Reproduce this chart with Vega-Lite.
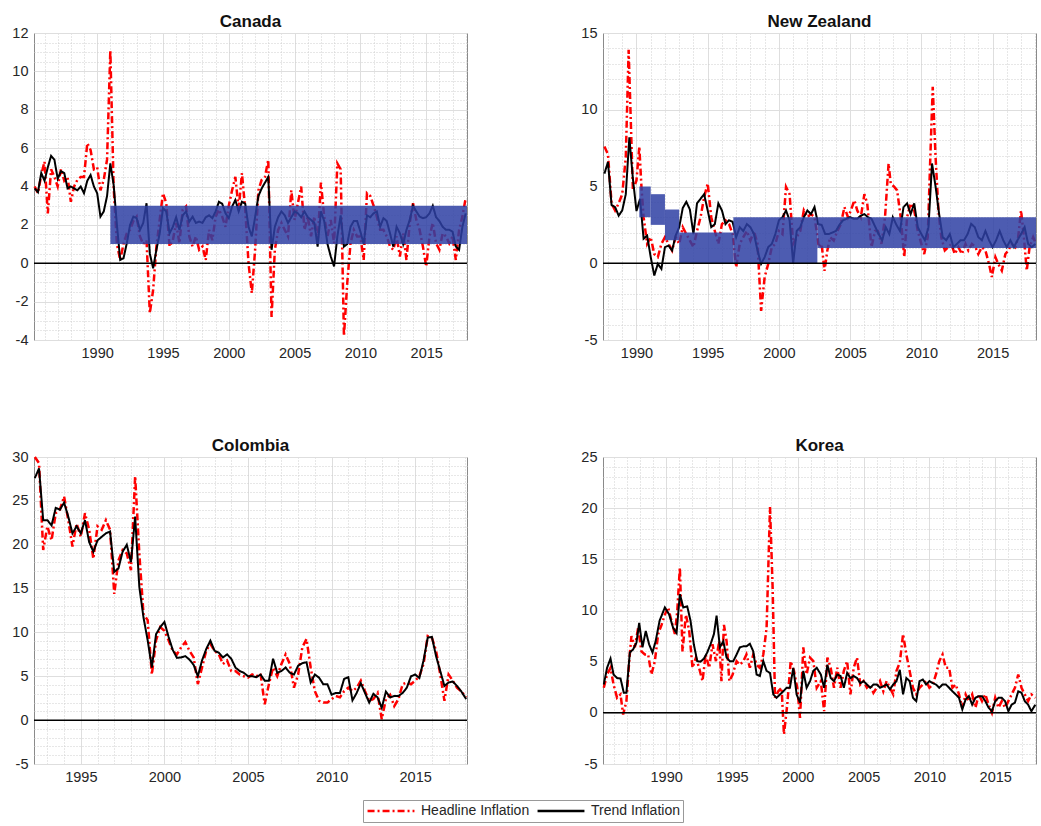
{
  "$schema": "https://vega.github.io/schema/vega-lite/v6.json",
  "background": "white",
  "padding": {"left": 11, "top": 12, "right": 5, "bottom": 2},
  "config": {
    "font": "Liberation Sans",
    "view": {"stroke": "#8a8a8a", "strokeWidth": 1},
    "axis": {"labelFont": "Liberation Sans", "labelFontSize": 14.5, "labelColor": "#262626", "domain": false, "ticks": false, "title": null, "labelPadding": 6, "gridOpacity": 1},
    "title": {"font": "Liberation Sans", "fontSize": 17, "fontWeight": "bold", "color": "#111111", "offset": -6},
    "legend": {"orient": "none", "legendX": 329, "legendY": 767, "direction": "horizontal", "strokeColor": "#999999", "fillColor": "white", "padding": 3, "symbolType": "stroke", "symbolSize": 2200, "symbolStrokeWidth": 2.4, "clipHeight": 16, "labelFont": "Liberation Sans", "labelFontSize": 14, "labelColor": "#262626", "columnPadding": 6, "labelOffset": 5}
  },
  "datasets": {
    "ca_h": [
      {"t":1985.25,"v":4.0},{"t":1985.5,"v":3.65},{"t":1985.75,"v":4.6},{"t":1986.0,"v":5.3},{"t":1986.25,"v":2.6},{"t":1986.5,"v":4.9},{"t":1986.75,"v":4.5},{"t":1987.0,"v":4.0},{"t":1987.25,"v":4.9},{"t":1987.5,"v":4.3},{"t":1987.75,"v":4.5},{"t":1988.0,"v":3.2},{"t":1988.25,"v":4.0},{"t":1988.5,"v":4.35},{"t":1988.75,"v":4.5},{"t":1989.0,"v":4.5},{"t":1989.25,"v":6.26},{"t":1989.5,"v":5.9},{"t":1989.75,"v":4.9},{"t":1990.0,"v":5.0},{"t":1990.25,"v":3.8},{"t":1990.5,"v":4.35},{"t":1990.75,"v":5.4},{"t":1991.0,"v":11.1},{"t":1991.25,"v":4.0},{"t":1991.5,"v":1.0},{"t":1991.75,"v":0.17},{"t":1992.0,"v":1.0},{"t":1992.25,"v":1.56},{"t":1992.5,"v":1.74},{"t":1992.75,"v":2.2},{"t":1993.0,"v":2.43},{"t":1993.25,"v":1.4},{"t":1993.5,"v":1.0},{"t":1993.75,"v":1.2},{"t":1994.0,"v":-2.6},{"t":1994.25,"v":-1.4},{"t":1994.5,"v":0.87},{"t":1994.75,"v":2.26},{"t":1995.0,"v":3.65},{"t":1995.25,"v":3.13},{"t":1995.5,"v":0.87},{"t":1995.75,"v":1.2},{"t":1996.0,"v":2.1},{"t":1996.25,"v":1.04},{"t":1996.5,"v":2.8},{"t":1996.75,"v":2.96},{"t":1997.0,"v":1.4},{"t":1997.25,"v":0.87},{"t":1997.5,"v":1.4},{"t":1997.75,"v":0.7},{"t":1998.0,"v":0.87},{"t":1998.25,"v":0.17},{"t":1998.5,"v":1.74},{"t":1998.75,"v":1.2},{"t":1999.0,"v":2.43},{"t":1999.25,"v":2.8},{"t":1999.5,"v":2.43},{"t":1999.75,"v":1.9},{"t":2000.0,"v":3.0},{"t":2000.25,"v":3.8},{"t":2000.5,"v":4.5},{"t":2000.75,"v":2.8},{"t":2001.0,"v":4.7},{"t":2001.25,"v":2.8},{"t":2001.5,"v":0.0},{"t":2001.75,"v":-1.56},{"t":2002.0,"v":0.7},{"t":2002.25,"v":3.8},{"t":2002.5,"v":4.35},{"t":2002.75,"v":4.5},{"t":2003.0,"v":5.4},{"t":2003.25,"v":-2.8},{"t":2003.5,"v":0.7},{"t":2003.75,"v":1.74},{"t":2004.0,"v":2.1},{"t":2004.25,"v":1.74},{"t":2004.5,"v":1.4},{"t":2004.75,"v":3.8},{"t":2005.0,"v":2.26},{"t":2005.25,"v":3.13},{"t":2005.5,"v":4.0},{"t":2005.75,"v":1.74},{"t":2006.0,"v":2.43},{"t":2006.25,"v":1.4},{"t":2006.5,"v":2.43},{"t":2006.75,"v":1.04},{"t":2007.0,"v":4.2},{"t":2007.25,"v":2.43},{"t":2007.5,"v":1.4},{"t":2007.75,"v":2.26},{"t":2008.0,"v":1.04},{"t":2008.25,"v":5.2},{"t":2008.5,"v":4.9},{"t":2008.75,"v":-3.8},{"t":2009.0,"v":-1.04},{"t":2009.25,"v":1.04},{"t":2009.5,"v":1.74},{"t":2009.75,"v":1.4},{"t":2010.0,"v":1.4},{"t":2010.25,"v":0.17},{"t":2010.5,"v":3.65},{"t":2010.75,"v":3.5},{"t":2011.0,"v":3.0},{"t":2011.25,"v":2.43},{"t":2011.5,"v":1.74},{"t":2011.75,"v":1.74},{"t":2012.0,"v":1.4},{"t":2012.25,"v":0.87},{"t":2012.5,"v":0.7},{"t":2012.75,"v":1.4},{"t":2013.0,"v":0.35},{"t":2013.25,"v":1.56},{"t":2013.5,"v":0.17},{"t":2013.75,"v":2.1},{"t":2014.0,"v":3.13},{"t":2014.25,"v":2.26},{"t":2014.5,"v":1.74},{"t":2014.75,"v":0.87},{"t":2015.0,"v":-0.17},{"t":2015.25,"v":1.4},{"t":2015.5,"v":2.1},{"t":2015.75,"v":1.04},{"t":2016.0,"v":0.7},{"t":2016.25,"v":1.56},{"t":2016.5,"v":1.4},{"t":2016.75,"v":1.04},{"t":2017.0,"v":1.4},{"t":2017.25,"v":0.17},{"t":2017.5,"v":1.74},{"t":2017.75,"v":2.43},{"t":2018.0,"v":3.4}
    ],
    "ca_t": [
      {"t":1985.25,"v":3.9},{"t":1985.5,"v":3.7},{"t":1985.75,"v":4.7},{"t":1986.0,"v":4.3},{"t":1986.25,"v":5.0},{"t":1986.5,"v":5.6},{"t":1986.75,"v":5.4},{"t":1987.0,"v":4.4},{"t":1987.25,"v":4.8},{"t":1987.5,"v":4.7},{"t":1987.75,"v":3.9},{"t":1988.0,"v":4.0},{"t":1988.25,"v":3.9},{"t":1988.5,"v":3.8},{"t":1988.75,"v":4.0},{"t":1989.0,"v":3.65},{"t":1989.25,"v":4.3},{"t":1989.5,"v":4.6},{"t":1989.75,"v":4.0},{"t":1990.0,"v":3.65},{"t":1990.25,"v":2.43},{"t":1990.5,"v":2.7},{"t":1990.75,"v":3.5},{"t":1991.0,"v":5.2},{"t":1991.25,"v":4.1},{"t":1991.5,"v":2.0},{"t":1991.75,"v":0.17},{"t":1992.0,"v":0.26},{"t":1992.25,"v":1.04},{"t":1992.5,"v":2.0},{"t":1992.75,"v":2.43},{"t":1993.0,"v":2.35},{"t":1993.25,"v":1.74},{"t":1993.5,"v":2.1},{"t":1993.75,"v":3.13},{"t":1994.0,"v":0.5},{"t":1994.25,"v":-0.26},{"t":1994.5,"v":0.7},{"t":1994.75,"v":1.56},{"t":1995.0,"v":2.87},{"t":1995.25,"v":2.7},{"t":1995.5,"v":1.56},{"t":1995.75,"v":1.9},{"t":1996.0,"v":2.4},{"t":1996.25,"v":1.74},{"t":1996.5,"v":2.5},{"t":1996.75,"v":2.7},{"t":1997.0,"v":2.17},{"t":1997.25,"v":2.43},{"t":1997.5,"v":2.1},{"t":1997.75,"v":2.17},{"t":1998.0,"v":2.1},{"t":1998.25,"v":2.4},{"t":1998.5,"v":2.5},{"t":1998.75,"v":2.35},{"t":1999.0,"v":2.7},{"t":1999.25,"v":3.2},{"t":1999.5,"v":3.1},{"t":1999.75,"v":2.6},{"t":2000.0,"v":2.35},{"t":2000.25,"v":2.95},{"t":2000.5,"v":3.3},{"t":2000.75,"v":2.7},{"t":2001.0,"v":3.2},{"t":2001.25,"v":3.1},{"t":2001.5,"v":1.9},{"t":2001.75,"v":1.4},{"t":2002.0,"v":2.4},{"t":2002.25,"v":3.5},{"t":2002.5,"v":3.9},{"t":2002.75,"v":4.2},{"t":2003.0,"v":4.5},{"t":2003.25,"v":0.7},{"t":2003.5,"v":1.9},{"t":2003.75,"v":2.4},{"t":2004.0,"v":2.7},{"t":2004.25,"v":2.5},{"t":2004.5,"v":2.1},{"t":2004.75,"v":2.4},{"t":2005.0,"v":2.7},{"t":2005.25,"v":2.6},{"t":2005.5,"v":2.4},{"t":2005.75,"v":2.7},{"t":2006.0,"v":2.4},{"t":2006.25,"v":2.26},{"t":2006.5,"v":2.1},{"t":2006.75,"v":0.87},{"t":2007.0,"v":2.7},{"t":2007.25,"v":2.2},{"t":2007.5,"v":1.0},{"t":2007.75,"v":0.35},{"t":2008.0,"v":-0.17},{"t":2008.25,"v":1.4},{"t":2008.5,"v":2.5},{"t":2008.75,"v":0.87},{"t":2009.0,"v":1.0},{"t":2009.25,"v":1.9},{"t":2009.5,"v":2.2},{"t":2009.75,"v":2.2},{"t":2010.0,"v":1.65},{"t":2010.25,"v":1.0},{"t":2010.5,"v":2.5},{"t":2010.75,"v":2.4},{"t":2011.0,"v":2.6},{"t":2011.25,"v":2.7},{"t":2011.5,"v":1.9},{"t":2011.75,"v":2.35},{"t":2012.0,"v":2.2},{"t":2012.25,"v":1.56},{"t":2012.5,"v":0.87},{"t":2012.75,"v":1.9},{"t":2013.0,"v":1.56},{"t":2013.25,"v":1.0},{"t":2013.5,"v":1.74},{"t":2013.75,"v":2.26},{"t":2014.0,"v":3.0},{"t":2014.25,"v":2.7},{"t":2014.5,"v":2.43},{"t":2014.75,"v":2.35},{"t":2015.0,"v":2.4},{"t":2015.25,"v":2.6},{"t":2015.5,"v":3.0},{"t":2015.75,"v":2.4},{"t":2016.0,"v":2.2},{"t":2016.25,"v":1.9},{"t":2016.5,"v":1.74},{"t":2016.75,"v":1.74},{"t":2017.0,"v":1.65},{"t":2017.25,"v":0.87},{"t":2017.5,"v":0.7},{"t":2017.75,"v":1.9},{"t":2018.0,"v":2.6}
    ],
    "ca_band": [{"x0":1991.0,"x1":2018.1,"lo":1,"hi":3}],
    "nz_h": [
      {"t":1987.75,"v":7.6},{"t":1988.0,"v":7.1},{"t":1988.25,"v":3.9},{"t":1988.5,"v":3.44},{"t":1988.75,"v":3.9},{"t":1989.0,"v":4.5},{"t":1989.25,"v":6.9},{"t":1989.45,"v":13.9},{"t":1989.75,"v":4.75},{"t":1990.0,"v":5.4},{"t":1990.2,"v":7.6},{"t":1990.35,"v":4.97},{"t":1990.5,"v":3.0},{"t":1990.75,"v":1.26},{"t":1991.0,"v":1.7},{"t":1991.25,"v":0.6},{"t":1991.5,"v":0.4},{"t":1991.75,"v":1.26},{"t":1992.0,"v":1.7},{"t":1992.25,"v":1.26},{"t":1992.5,"v":0.83},{"t":1992.75,"v":1.7},{"t":1993.0,"v":1.26},{"t":1993.25,"v":2.35},{"t":1993.5,"v":1.9},{"t":1993.75,"v":1.48},{"t":1994.0,"v":1.05},{"t":1994.25,"v":2.1},{"t":1994.5,"v":3.0},{"t":1994.75,"v":4.3},{"t":1995.0,"v":5.2},{"t":1995.25,"v":3.0},{"t":1995.5,"v":2.1},{"t":1995.75,"v":1.26},{"t":1996.0,"v":2.55},{"t":1996.25,"v":2.8},{"t":1996.5,"v":2.55},{"t":1996.75,"v":1.9},{"t":1997.0,"v":-0.26},{"t":1997.25,"v":1.26},{"t":1997.5,"v":1.7},{"t":1997.75,"v":2.1},{"t":1998.0,"v":1.48},{"t":1998.25,"v":2.1},{"t":1998.5,"v":1.26},{"t":1998.75,"v":-3.1},{"t":1999.0,"v":-0.9},{"t":1999.25,"v":-0.04},{"t":1999.5,"v":1.05},{"t":1999.75,"v":1.26},{"t":2000.0,"v":2.1},{"t":2000.25,"v":1.9},{"t":2000.5,"v":4.97},{"t":2000.75,"v":4.5},{"t":2001.0,"v":1.26},{"t":2001.25,"v":1.7},{"t":2001.5,"v":2.1},{"t":2001.75,"v":3.44},{"t":2002.0,"v":3.0},{"t":2002.25,"v":3.2},{"t":2002.5,"v":3.0},{"t":2002.65,"v":2.1},{"t":2002.8,"v":1.05},{"t":2003.0,"v":1.26},{"t":2003.2,"v":-0.5},{"t":2003.4,"v":0.83},{"t":2003.6,"v":1.7},{"t":2003.85,"v":1.48},{"t":2004.1,"v":2.1},{"t":2004.35,"v":2.55},{"t":2004.6,"v":3.66},{"t":2004.85,"v":3.0},{"t":2005.05,"v":3.44},{"t":2005.3,"v":4.1},{"t":2005.5,"v":3.44},{"t":2005.75,"v":3.0},{"t":2006.0,"v":4.5},{"t":2006.2,"v":3.9},{"t":2006.5,"v":1.05},{"t":2006.75,"v":2.1},{"t":2006.95,"v":2.1},{"t":2007.2,"v":1.26},{"t":2007.45,"v":3.0},{"t":2007.7,"v":6.5},{"t":2007.85,"v":5.2},{"t":2008.1,"v":4.97},{"t":2008.3,"v":4.75},{"t":2008.55,"v":3.0},{"t":2008.8,"v":0.4},{"t":2009.0,"v":3.0},{"t":2009.25,"v":3.9},{"t":2009.5,"v":3.44},{"t":2009.75,"v":2.1},{"t":2010.0,"v":1.26},{"t":2010.2,"v":0.6},{"t":2010.45,"v":1.7},{"t":2010.6,"v":6.05},{"t":2010.8,"v":11.5},{"t":2011.0,"v":6.9},{"t":2011.2,"v":3.44},{"t":2011.4,"v":1.7},{"t":2011.65,"v":0.83},{"t":2011.9,"v":1.05},{"t":2012.1,"v":1.26},{"t":2012.35,"v":0.6},{"t":2012.6,"v":1.05},{"t":2012.85,"v":0.6},{"t":2013.1,"v":1.26},{"t":2013.3,"v":0.83},{"t":2013.55,"v":1.26},{"t":2013.8,"v":1.05},{"t":2014.0,"v":0.6},{"t":2014.25,"v":1.05},{"t":2014.5,"v":0.83},{"t":2014.75,"v":-0.04},{"t":2014.95,"v":-0.9},{"t":2015.2,"v":0.4},{"t":2015.4,"v":-0.04},{"t":2015.65,"v":-0.48},{"t":2015.9,"v":0.6},{"t":2016.1,"v":0.83},{"t":2016.35,"v":1.26},{"t":2016.6,"v":1.05},{"t":2016.8,"v":1.7},{"t":2017.0,"v":3.44},{"t":2017.2,"v":1.7},{"t":2017.4,"v":-0.48},{"t":2017.6,"v":1.05},{"t":2017.85,"v":1.7},{"t":2018.05,"v":1.26}
    ],
    "nz_t": [
      {"t":1987.75,"v":5.84},{"t":1988.0,"v":6.6},{"t":1988.25,"v":3.8},{"t":1988.5,"v":3.66},{"t":1988.75,"v":3.1},{"t":1989.0,"v":3.44},{"t":1989.25,"v":4.5},{"t":1989.5,"v":8.2},{"t":1989.75,"v":5.5},{"t":1990.0,"v":3.4},{"t":1990.25,"v":4.2},{"t":1990.5,"v":1.6},{"t":1990.75,"v":1.8},{"t":1991.0,"v":0.4},{"t":1991.25,"v":-0.8},{"t":1991.5,"v":-0.04},{"t":1991.75,"v":-0.37},{"t":1992.0,"v":1.05},{"t":1992.25,"v":1.15},{"t":1992.5,"v":0.83},{"t":1992.75,"v":1.8},{"t":1993.0,"v":2.35},{"t":1993.25,"v":3.6},{"t":1993.5,"v":4.0},{"t":1993.75,"v":3.5},{"t":1994.0,"v":1.9},{"t":1994.25,"v":3.9},{"t":1994.5,"v":4.2},{"t":1994.75,"v":4.5},{"t":1995.0,"v":3.44},{"t":1995.25,"v":2.35},{"t":1995.5,"v":2.55},{"t":1995.75,"v":3.9},{"t":1996.0,"v":3.44},{"t":1996.25,"v":2.55},{"t":1996.5,"v":2.8},{"t":1996.75,"v":2.7},{"t":1997.0,"v":1.7},{"t":1997.25,"v":2.35},{"t":1997.5,"v":2.1},{"t":1997.75,"v":2.55},{"t":1998.0,"v":2.35},{"t":1998.25,"v":1.9},{"t":1998.5,"v":0.83},{"t":1998.75,"v":-0.04},{"t":1999.0,"v":0.4},{"t":1999.25,"v":1.05},{"t":1999.5,"v":1.26},{"t":1999.75,"v":1.9},{"t":2000.0,"v":2.8},{"t":2000.25,"v":3.0},{"t":2000.5,"v":3.44},{"t":2000.75,"v":2.8},{"t":2001.0,"v":0.0},{"t":2001.25,"v":2.1},{"t":2001.5,"v":2.35},{"t":2001.75,"v":3.0},{"t":2002.0,"v":3.44},{"t":2002.25,"v":3.2},{"t":2002.5,"v":3.66},{"t":2002.75,"v":2.55},{"t":2003.0,"v":2.5},{"t":2003.25,"v":1.9},{"t":2003.5,"v":1.9},{"t":2003.75,"v":2.0},{"t":2004.0,"v":2.1},{"t":2004.25,"v":2.5},{"t":2004.5,"v":2.8},{"t":2004.75,"v":2.9},{"t":2005.0,"v":3.0},{"t":2005.25,"v":2.9},{"t":2005.5,"v":2.9},{"t":2005.75,"v":3.1},{"t":2006.0,"v":3.2},{"t":2006.25,"v":3.0},{"t":2006.5,"v":2.9},{"t":2006.75,"v":2.4},{"t":2007.0,"v":1.9},{"t":2007.25,"v":1.5},{"t":2007.5,"v":2.35},{"t":2007.75,"v":1.9},{"t":2008.0,"v":3.0},{"t":2008.25,"v":2.5},{"t":2008.5,"v":2.1},{"t":2008.75,"v":3.66},{"t":2009.0,"v":3.9},{"t":2009.25,"v":3.2},{"t":2009.5,"v":3.9},{"t":2009.75,"v":2.35},{"t":2010.0,"v":1.9},{"t":2010.25,"v":1.5},{"t":2010.5,"v":2.35},{"t":2010.75,"v":6.5},{"t":2011.0,"v":5.0},{"t":2011.25,"v":3.2},{"t":2011.5,"v":1.7},{"t":2011.75,"v":1.5},{"t":2012.0,"v":1.9},{"t":2012.25,"v":1.05},{"t":2012.5,"v":1.26},{"t":2012.75,"v":1.5},{"t":2013.0,"v":1.5},{"t":2013.25,"v":1.9},{"t":2013.5,"v":2.57},{"t":2013.75,"v":2.35},{"t":2014.0,"v":1.7},{"t":2014.25,"v":1.5},{"t":2014.5,"v":2.1},{"t":2014.75,"v":1.5},{"t":2015.0,"v":1.05},{"t":2015.25,"v":1.5},{"t":2015.5,"v":2.1},{"t":2015.75,"v":1.5},{"t":2016.0,"v":1.05},{"t":2016.25,"v":1.5},{"t":2016.5,"v":1.05},{"t":2016.75,"v":1.5},{"t":2017.0,"v":1.9},{"t":2017.25,"v":2.35},{"t":2017.5,"v":1.26},{"t":2017.75,"v":1.05},{"t":2018.0,"v":1.26}
    ],
    "nz_band": [
      {"x0":1990.2,"x1":1991.0,"lo":3,"hi":5},
      {"x0":1991.0,"x1":1992.0,"lo":2.5,"hi":4.5},
      {"x0":1992.0,"x1":1993.0,"lo":1.5,"hi":3.5},
      {"x0":1993.0,"x1":1996.8,"lo":0,"hi":2},
      {"x0":1996.8,"x1":2002.7,"lo":0,"hi":3},
      {"x0":2002.7,"x1":2018.05,"lo":1,"hi":3}
    ],
    "co_h": [
      {"t":1992.25,"v":30.0},{"t":1992.5,"v":29.3},{"t":1992.75,"v":19.4},{"t":1993.0,"v":22.1},{"t":1993.25,"v":20.5},{"t":1993.5,"v":23.6},{"t":1993.75,"v":24.0},{"t":1994.0,"v":25.5},{"t":1994.25,"v":22.8},{"t":1994.5,"v":19.8},{"t":1994.75,"v":22.4},{"t":1995.0,"v":20.9},{"t":1995.25,"v":23.6},{"t":1995.5,"v":21.7},{"t":1995.75,"v":18.4},{"t":1996.0,"v":22.1},{"t":1996.25,"v":21.7},{"t":1996.5,"v":22.8},{"t":1996.75,"v":21.7},{"t":1997.0,"v":14.4},{"t":1997.25,"v":18.2},{"t":1997.5,"v":19.4},{"t":1997.75,"v":19.0},{"t":1998.0,"v":17.1},{"t":1998.25,"v":27.8},{"t":1998.5,"v":19.0},{"t":1998.75,"v":12.1},{"t":1999.0,"v":11.4},{"t":1999.25,"v":5.2},{"t":1999.5,"v":9.1},{"t":1999.75,"v":10.6},{"t":2000.0,"v":10.2},{"t":2000.25,"v":9.1},{"t":2000.5,"v":7.9},{"t":2000.75,"v":7.5},{"t":2001.0,"v":8.3},{"t":2001.25,"v":8.9},{"t":2001.5,"v":7.9},{"t":2001.75,"v":7.15},{"t":2002.0,"v":4.1},{"t":2002.25,"v":6.0},{"t":2002.5,"v":7.9},{"t":2002.75,"v":8.7},{"t":2003.0,"v":7.9},{"t":2003.25,"v":7.5},{"t":2003.5,"v":6.4},{"t":2003.75,"v":6.8},{"t":2004.0,"v":5.6},{"t":2004.25,"v":5.6},{"t":2004.5,"v":5.2},{"t":2004.75,"v":5.0},{"t":2005.0,"v":4.85},{"t":2005.25,"v":5.2},{"t":2005.5,"v":5.0},{"t":2005.75,"v":5.3},{"t":2006.0,"v":1.8},{"t":2006.25,"v":4.1},{"t":2006.5,"v":6.0},{"t":2006.75,"v":5.0},{"t":2007.0,"v":6.4},{"t":2007.25,"v":7.5},{"t":2007.5,"v":6.4},{"t":2007.75,"v":3.7},{"t":2008.0,"v":5.2},{"t":2008.25,"v":8.3},{"t":2008.5,"v":9.25},{"t":2008.75,"v":6.0},{"t":2009.0,"v":3.3},{"t":2009.25,"v":2.2},{"t":2009.5,"v":2.0},{"t":2009.75,"v":2.0},{"t":2010.0,"v":2.4},{"t":2010.25,"v":2.75},{"t":2010.5,"v":2.6},{"t":2010.75,"v":3.3},{"t":2011.0,"v":3.7},{"t":2011.25,"v":3.3},{"t":2011.5,"v":3.7},{"t":2011.75,"v":4.5},{"t":2012.0,"v":3.3},{"t":2012.25,"v":2.2},{"t":2012.5,"v":2.4},{"t":2012.75,"v":3.1},{"t":2013.0,"v":0.1},{"t":2013.25,"v":2.4},{"t":2013.5,"v":2.9},{"t":2013.75,"v":1.6},{"t":2014.0,"v":2.4},{"t":2014.25,"v":4.1},{"t":2014.5,"v":4.3},{"t":2014.75,"v":4.1},{"t":2015.0,"v":4.5},{"t":2015.25,"v":5.0},{"t":2015.5,"v":6.4},{"t":2015.75,"v":9.6},{"t":2016.0,"v":9.4},{"t":2016.25,"v":7.9},{"t":2016.5,"v":5.2},{"t":2016.75,"v":2.2},{"t":2017.0,"v":5.2},{"t":2017.25,"v":4.5},{"t":2017.5,"v":3.7},{"t":2017.75,"v":3.3},{"t":2018.05,"v":2.6}
    ],
    "co_t": [
      {"t":1992.25,"v":27.6},{"t":1992.5,"v":28.7},{"t":1992.75,"v":22.8},{"t":1993.0,"v":22.8},{"t":1993.25,"v":22.2},{"t":1993.5,"v":24.2},{"t":1993.75,"v":24.0},{"t":1994.0,"v":24.8},{"t":1994.25,"v":23.2},{"t":1994.5,"v":21.3},{"t":1994.75,"v":22.1},{"t":1995.0,"v":21.3},{"t":1995.25,"v":22.8},{"t":1995.5,"v":20.3},{"t":1995.75,"v":19.2},{"t":1996.0,"v":20.5},{"t":1996.25,"v":20.9},{"t":1996.5,"v":21.3},{"t":1996.75,"v":21.5},{"t":1997.0,"v":16.9},{"t":1997.25,"v":17.3},{"t":1997.5,"v":19.2},{"t":1997.75,"v":20.0},{"t":1998.0,"v":18.0},{"t":1998.25,"v":23.2},{"t":1998.5,"v":15.2},{"t":1998.75,"v":11.7},{"t":1999.0,"v":9.1},{"t":1999.25,"v":6.0},{"t":1999.5,"v":9.8},{"t":1999.75,"v":10.6},{"t":2000.0,"v":11.2},{"t":2000.25,"v":9.5},{"t":2000.5,"v":8.0},{"t":2000.75,"v":7.1},{"t":2001.0,"v":7.15},{"t":2001.25,"v":7.3},{"t":2001.5,"v":6.9},{"t":2001.75,"v":6.3},{"t":2002.0,"v":5.0},{"t":2002.25,"v":6.8},{"t":2002.5,"v":8.1},{"t":2002.75,"v":9.06},{"t":2003.0,"v":7.9},{"t":2003.25,"v":7.7},{"t":2003.5,"v":7.15},{"t":2003.75,"v":7.5},{"t":2004.0,"v":7.0},{"t":2004.25,"v":6.0},{"t":2004.5,"v":5.6},{"t":2004.75,"v":5.4},{"t":2005.0,"v":5.0},{"t":2005.25,"v":5.0},{"t":2005.5,"v":4.9},{"t":2005.75,"v":5.2},{"t":2006.0,"v":4.5},{"t":2006.25,"v":4.5},{"t":2006.5,"v":7.0},{"t":2006.75,"v":5.4},{"t":2007.0,"v":5.6},{"t":2007.25,"v":6.0},{"t":2007.5,"v":5.4},{"t":2007.75,"v":5.2},{"t":2008.0,"v":6.2},{"t":2008.25,"v":6.5},{"t":2008.5,"v":6.6},{"t":2008.75,"v":4.3},{"t":2009.0,"v":5.2},{"t":2009.25,"v":4.85},{"t":2009.5,"v":4.1},{"t":2009.75,"v":4.1},{"t":2010.0,"v":2.9},{"t":2010.25,"v":3.1},{"t":2010.5,"v":3.1},{"t":2010.75,"v":4.7},{"t":2011.0,"v":4.9},{"t":2011.25,"v":2.25},{"t":2011.5,"v":3.1},{"t":2011.75,"v":4.2},{"t":2012.0,"v":3.1},{"t":2012.25,"v":2.0},{"t":2012.5,"v":3.0},{"t":2012.75,"v":2.6},{"t":2013.0,"v":1.4},{"t":2013.25,"v":3.25},{"t":2013.5,"v":2.6},{"t":2013.75,"v":2.75},{"t":2014.0,"v":2.75},{"t":2014.25,"v":3.1},{"t":2014.5,"v":3.7},{"t":2014.75,"v":5.0},{"t":2015.0,"v":5.2},{"t":2015.25,"v":4.8},{"t":2015.5,"v":6.8},{"t":2015.75,"v":9.4},{"t":2016.0,"v":9.5},{"t":2016.25,"v":7.3},{"t":2016.5,"v":5.6},{"t":2016.75,"v":3.9},{"t":2017.0,"v":4.3},{"t":2017.25,"v":4.4},{"t":2017.5,"v":3.9},{"t":2017.75,"v":3.3},{"t":2018.05,"v":2.4}
    ],
    "ko_h": [
      {"t":1985.26,"v":2.45},{"t":1985.51,"v":3.75},{"t":1985.77,"v":4.4},{"t":1986.0,"v":2.77},{"t":1986.27,"v":1.47},{"t":1986.53,"v":1.8},{"t":1986.73,"v":-0.16},{"t":1986.98,"v":1.14},{"t":1987.19,"v":5.05},{"t":1987.36,"v":7.5},{"t":1987.62,"v":6.4},{"t":1987.87,"v":8.3},{"t":1988.12,"v":6.0},{"t":1988.38,"v":5.7},{"t":1988.63,"v":5.7},{"t":1988.88,"v":3.75},{"t":1989.14,"v":5.05},{"t":1989.39,"v":7.7},{"t":1989.65,"v":8.6},{"t":1989.9,"v":9.6},{"t":1990.15,"v":10.3},{"t":1990.4,"v":9.0},{"t":1990.66,"v":7.7},{"t":1990.84,"v":9.9},{"t":1991.04,"v":14.2},{"t":1991.24,"v":6.0},{"t":1991.5,"v":9.6},{"t":1991.75,"v":8.0},{"t":1992.0,"v":4.4},{"t":1992.26,"v":5.4},{"t":1992.5,"v":4.4},{"t":1992.76,"v":3.1},{"t":1993.0,"v":5.7},{"t":1993.27,"v":4.4},{"t":1993.52,"v":6.7},{"t":1993.78,"v":5.05},{"t":1994.03,"v":7.0},{"t":1994.2,"v":3.1},{"t":1994.39,"v":8.6},{"t":1994.59,"v":7.0},{"t":1994.8,"v":3.1},{"t":1995.05,"v":3.75},{"t":1995.35,"v":5.05},{"t":1995.6,"v":4.7},{"t":1995.86,"v":5.05},{"t":1996.1,"v":5.7},{"t":1996.36,"v":4.4},{"t":1996.62,"v":5.7},{"t":1996.87,"v":4.7},{"t":1997.12,"v":4.4},{"t":1997.38,"v":5.7},{"t":1997.63,"v":8.3},{"t":1997.89,"v":20.1},{"t":1998.09,"v":12.2},{"t":1998.27,"v":1.47},{"t":1998.52,"v":2.1},{"t":1998.77,"v":2.45},{"t":1998.95,"v":-2.1},{"t":1999.2,"v":0.8},{"t":1999.46,"v":5.05},{"t":1999.71,"v":4.1},{"t":1999.96,"v":2.45},{"t":2000.17,"v":-0.5},{"t":2000.42,"v":6.4},{"t":2000.67,"v":3.75},{"t":2000.93,"v":5.4},{"t":2001.18,"v":5.05},{"t":2001.44,"v":2.45},{"t":2001.75,"v":3.1},{"t":2002.0,"v":0.16},{"t":2002.25,"v":5.4},{"t":2002.5,"v":4.4},{"t":2002.75,"v":2.45},{"t":2003.0,"v":4.4},{"t":2003.25,"v":2.45},{"t":2003.5,"v":4.1},{"t":2003.75,"v":5.05},{"t":2004.0,"v":1.8},{"t":2004.25,"v":4.4},{"t":2004.5,"v":5.4},{"t":2004.75,"v":2.77},{"t":2005.0,"v":3.1},{"t":2005.25,"v":2.45},{"t":2005.5,"v":2.77},{"t":2005.75,"v":1.96},{"t":2006.0,"v":2.45},{"t":2006.25,"v":3.1},{"t":2006.5,"v":2.1},{"t":2006.75,"v":3.1},{"t":2007.0,"v":2.45},{"t":2007.25,"v":1.8},{"t":2007.5,"v":4.1},{"t":2007.75,"v":4.9},{"t":2008.0,"v":7.7},{"t":2008.25,"v":5.7},{"t":2008.5,"v":4.1},{"t":2008.75,"v":2.45},{"t":2009.0,"v":1.8},{"t":2009.25,"v":2.45},{"t":2009.5,"v":2.77},{"t":2009.75,"v":3.1},{"t":2010.0,"v":2.45},{"t":2010.25,"v":2.77},{"t":2010.5,"v":3.75},{"t":2010.75,"v":5.05},{"t":2011.0,"v":5.7},{"t":2011.25,"v":4.4},{"t":2011.5,"v":4.4},{"t":2011.75,"v":2.45},{"t":2012.0,"v":2.77},{"t":2012.25,"v":1.8},{"t":2012.5,"v":0.5},{"t":2012.75,"v":1.8},{"t":2013.0,"v":1.14},{"t":2013.25,"v":1.8},{"t":2013.5,"v":0.5},{"t":2013.75,"v":1.8},{"t":2014.0,"v":1.14},{"t":2014.25,"v":1.8},{"t":2014.5,"v":0.8},{"t":2014.75,"v":0.0},{"t":2015.0,"v":1.47},{"t":2015.25,"v":0.5},{"t":2015.5,"v":1.14},{"t":2015.75,"v":0.5},{"t":2016.0,"v":1.14},{"t":2016.25,"v":1.8},{"t":2016.5,"v":2.45},{"t":2016.75,"v":3.75},{"t":2017.0,"v":2.45},{"t":2017.25,"v":1.8},{"t":2017.5,"v":1.14},{"t":2017.75,"v":1.8},{"t":2018.05,"v":1.47}
    ],
    "ko_t": [
      {"t":1985.26,"v":2.77},{"t":1985.51,"v":4.4},{"t":1985.77,"v":5.3},{"t":1986.0,"v":3.75},{"t":1986.27,"v":3.4},{"t":1986.53,"v":3.36},{"t":1986.78,"v":1.96},{"t":1986.98,"v":1.96},{"t":1987.24,"v":5.9},{"t":1987.49,"v":6.2},{"t":1987.74,"v":6.85},{"t":1987.95,"v":8.8},{"t":1988.2,"v":6.4},{"t":1988.45,"v":8.0},{"t":1988.7,"v":6.7},{"t":1988.96,"v":5.9},{"t":1989.2,"v":7.0},{"t":1989.5,"v":9.0},{"t":1989.9,"v":10.3},{"t":1990.23,"v":9.6},{"t":1990.53,"v":8.3},{"t":1990.79,"v":7.8},{"t":1991.04,"v":11.6},{"t":1991.3,"v":10.3},{"t":1991.6,"v":10.4},{"t":1991.85,"v":9.0},{"t":1992.1,"v":6.7},{"t":1992.36,"v":5.05},{"t":1992.61,"v":5.0},{"t":1992.87,"v":5.3},{"t":1993.12,"v":5.9},{"t":1993.37,"v":6.7},{"t":1993.63,"v":7.7},{"t":1993.83,"v":9.5},{"t":1994.08,"v":6.4},{"t":1994.34,"v":7.0},{"t":1994.59,"v":5.4},{"t":1994.84,"v":5.05},{"t":1995.1,"v":5.05},{"t":1995.35,"v":5.7},{"t":1995.6,"v":6.4},{"t":1995.86,"v":6.5},{"t":1996.1,"v":6.5},{"t":1996.36,"v":6.75},{"t":1996.62,"v":6.0},{"t":1996.87,"v":3.75},{"t":1997.12,"v":3.6},{"t":1997.38,"v":5.05},{"t":1997.63,"v":4.1},{"t":1997.89,"v":3.9},{"t":1998.14,"v":1.8},{"t":1998.39,"v":1.47},{"t":1998.65,"v":1.8},{"t":1998.9,"v":2.1},{"t":1999.15,"v":2.45},{"t":1999.4,"v":2.45},{"t":1999.66,"v":4.4},{"t":1999.91,"v":1.8},{"t":2000.17,"v":1.0},{"t":2000.42,"v":4.1},{"t":2000.67,"v":2.45},{"t":2000.93,"v":3.1},{"t":2001.18,"v":4.1},{"t":2001.44,"v":4.4},{"t":2001.75,"v":3.75},{"t":2002.0,"v":2.45},{"t":2002.25,"v":4.7},{"t":2002.5,"v":3.4},{"t":2002.75,"v":3.1},{"t":2003.0,"v":3.75},{"t":2003.25,"v":3.6},{"t":2003.5,"v":2.45},{"t":2003.75,"v":3.9},{"t":2004.0,"v":3.4},{"t":2004.25,"v":3.6},{"t":2004.5,"v":3.4},{"t":2004.75,"v":2.9},{"t":2005.0,"v":3.1},{"t":2005.25,"v":2.77},{"t":2005.5,"v":2.45},{"t":2005.75,"v":2.77},{"t":2006.0,"v":2.77},{"t":2006.25,"v":2.45},{"t":2006.5,"v":2.6},{"t":2006.75,"v":2.77},{"t":2007.0,"v":2.3},{"t":2007.25,"v":2.77},{"t":2007.5,"v":3.1},{"t":2007.75,"v":4.2},{"t":2008.0,"v":1.8},{"t":2008.25,"v":3.4},{"t":2008.5,"v":3.1},{"t":2008.75,"v":1.47},{"t":2009.0,"v":1.14},{"t":2009.25,"v":3.1},{"t":2009.5,"v":3.26},{"t":2009.75,"v":2.77},{"t":2010.0,"v":3.1},{"t":2010.25,"v":2.9},{"t":2010.5,"v":2.77},{"t":2010.75,"v":2.45},{"t":2011.0,"v":2.77},{"t":2011.25,"v":2.77},{"t":2011.5,"v":2.45},{"t":2011.75,"v":2.1},{"t":2012.0,"v":1.8},{"t":2012.25,"v":1.47},{"t":2012.5,"v":0.33},{"t":2012.75,"v":1.3},{"t":2013.0,"v":1.63},{"t":2013.25,"v":0.8},{"t":2013.5,"v":1.47},{"t":2013.75,"v":1.63},{"t":2014.0,"v":1.63},{"t":2014.25,"v":1.14},{"t":2014.5,"v":0.5},{"t":2014.75,"v":0.16},{"t":2015.0,"v":1.14},{"t":2015.25,"v":1.47},{"t":2015.5,"v":1.47},{"t":2015.75,"v":1.14},{"t":2016.0,"v":0.16},{"t":2016.25,"v":0.8},{"t":2016.5,"v":1.0},{"t":2016.75,"v":2.1},{"t":2017.0,"v":1.96},{"t":2017.25,"v":1.14},{"t":2017.5,"v":0.8},{"t":2017.75,"v":0.16},{"t":2018.05,"v":0.8}
    ]
  },
  "concat": [
    {
      "title": "Canada",
      "width": 433, "height": 307,
      "layer": [
        {"data": {"name": "ca_h"}, "mark": {"type": "line", "strokeWidth": 2.5},
         "encoding": {
           "x": {"field": "t", "type": "quantitative", "scale": {"domain": [1985.2, 2018.1], "nice": false, "zero": false},
                 "axis": {"orient": "bottom", "values": [1986,1987,1988,1989,1990,1991,1992,1993,1994,1995,1996,1997,1998,1999,2000,2001,2002,2003,2004,2005,2006,2007,2008,2009,2010,2011,2012,2013,2014,2015,2016,2017,2018], "labels": false, "grid": true, "gridColor": "#cfcfcf", "gridDash": [1,2]}},
           "y": {"field": "v", "type": "quantitative", "scale": {"domain": [-4, 12], "nice": false, "zero": false},
                 "axis": {"orient": "left", "values": [-3.5,-3,-2.5,-1.5,-1,-0.5,0.5,1,1.5,2.5,3,3.5,4.5,5,5.5,6.5,7,7.5,8.5,9,9.5,10.5,11,11.5], "labels": false, "grid": true, "gridColor": "#cfcfcf", "gridDash": [1,2]}},
           "color": {"datum": "Headline Inflation", "title": null, "scale": {"domain": ["Headline Inflation", "Trend Inflation"], "range": ["#ff0000", "#000000"]}},
           "strokeDash": {"datum": "Headline Inflation", "title": null, "scale": {"domain": ["Headline Inflation", "Trend Inflation"], "range": [[7, 3, 2, 3], [1, 0]]}}
         }},
        {"data": {"name": "ca_t"}, "mark": {"type": "line", "strokeWidth": 2},
         "encoding": {
           "x": {"field": "t", "type": "quantitative", "axis": {"orient": "bottom", "values": [1990,1995,2000,2005,2010,2015], "format": "d", "grid": true, "gridColor": "#dedede"}},
           "y": {"field": "v", "type": "quantitative", "axis": {"orient": "left", "values": [-4,-2,0,2,4,6,8,10,12], "labelExpr": "datum.value + ''", "grid": true, "gridColor": "#dedede"}},
           "color": {"datum": "Trend Inflation", "title": null},
           "strokeDash": {"datum": "Trend Inflation", "title": null}
         }},
        {"data": {"name": "ca_band"}, "mark": {"type": "rect", "color": "#2e3fa3", "opacity": 0.85},
         "encoding": {
           "x": {"field": "x0", "type": "quantitative", "axis": null}, "x2": {"field": "x1"},
           "y": {"field": "lo", "type": "quantitative", "axis": null}, "y2": {"field": "hi"}
         }},
        {"data": {"values": [{}]}, "mark": {"type": "rule", "color": "#000000", "strokeWidth": 1.5},
         "encoding": {"y": {"datum": 0, "type": "quantitative", "axis": null}}}
      ],
      "resolve": {"axis": {"x": "independent", "y": "independent"}}
    },
    {
      "title": "New Zealand",
      "width": 433, "height": 307,
      "layer": [
        {"data": {"name": "nz_h"}, "mark": {"type": "line", "strokeWidth": 2.5},
         "encoding": {
           "x": {"field": "t", "type": "quantitative", "scale": {"domain": [1987.65, 2018.05], "nice": false, "zero": false},
                 "axis": {"orient": "bottom", "values": [1988,1989,1990,1991,1992,1993,1994,1995,1996,1997,1998,1999,2000,2001,2002,2003,2004,2005,2006,2007,2008,2009,2010,2011,2012,2013,2014,2015,2016,2017,2018], "labels": false, "grid": true, "gridColor": "#cfcfcf", "gridDash": [1,2]}},
           "y": {"field": "v", "type": "quantitative", "scale": {"domain": [-5, 15], "nice": false, "zero": false},
                 "axis": {"orient": "left", "values": [-4,-3,-2,-1,1,2,3,4,6,7,8,9,11,12,13,14], "labels": false, "grid": true, "gridColor": "#cfcfcf", "gridDash": [1,2]}},
           "color": {"datum": "Headline Inflation", "title": null},
           "strokeDash": {"datum": "Headline Inflation", "title": null}
         }},
        {"data": {"name": "nz_t"}, "mark": {"type": "line", "strokeWidth": 2},
         "encoding": {
           "x": {"field": "t", "type": "quantitative", "axis": {"orient": "bottom", "values": [1990,1995,2000,2005,2010,2015], "format": "d", "grid": true, "gridColor": "#dedede"}},
           "y": {"field": "v", "type": "quantitative", "axis": {"orient": "left", "values": [-5,0,5,10,15], "labelExpr": "datum.value + ''", "grid": true, "gridColor": "#dedede"}},
           "color": {"datum": "Trend Inflation", "title": null},
           "strokeDash": {"datum": "Trend Inflation", "title": null}
         }},
        {"data": {"name": "nz_band"}, "mark": {"type": "rect", "color": "#2e3fa3", "opacity": 0.85},
         "encoding": {
           "x": {"field": "x0", "type": "quantitative", "axis": null}, "x2": {"field": "x1"},
           "y": {"field": "lo", "type": "quantitative", "axis": null}, "y2": {"field": "hi"}
         }},
        {"data": {"values": [{}]}, "mark": {"type": "rule", "color": "#000000", "strokeWidth": 1.5},
         "encoding": {"y": {"datum": 0, "type": "quantitative", "axis": null}}}
      ],
      "resolve": {"axis": {"x": "independent", "y": "independent"}}
    },
    {
      "title": "Colombia",
      "width": 433, "height": 307,
      "layer": [
        {"data": {"name": "co_h"}, "mark": {"type": "line", "strokeWidth": 2.5},
         "encoding": {
           "x": {"field": "t", "type": "quantitative", "scale": {"domain": [1992.2, 2018.1], "nice": false, "zero": false},
                 "axis": {"orient": "bottom", "values": [1993,1994,1995,1996,1997,1998,1999,2000,2001,2002,2003,2004,2005,2006,2007,2008,2009,2010,2011,2012,2013,2014,2015,2016,2017,2018], "labels": false, "grid": true, "gridColor": "#cfcfcf", "gridDash": [1,2]}},
           "y": {"field": "v", "type": "quantitative", "scale": {"domain": [-5, 30], "nice": false, "zero": false},
                 "axis": {"orient": "left", "values": [-4,-3,-2,-1,1,2,3,4,6,7,8,9,11,12,13,14,16,17,18,19,21,22,23,24,26,27,28,29], "labels": false, "grid": true, "gridColor": "#cfcfcf", "gridDash": [1,2]}},
           "color": {"datum": "Headline Inflation", "title": null},
           "strokeDash": {"datum": "Headline Inflation", "title": null}
         }},
        {"data": {"name": "co_t"}, "mark": {"type": "line", "strokeWidth": 2},
         "encoding": {
           "x": {"field": "t", "type": "quantitative", "axis": {"orient": "bottom", "values": [1995,2000,2005,2010,2015], "format": "d", "grid": true, "gridColor": "#dedede"}},
           "y": {"field": "v", "type": "quantitative", "axis": {"orient": "left", "values": [-5,0,5,10,15,20,25,30], "labelExpr": "datum.value + ''", "grid": true, "gridColor": "#dedede"}},
           "color": {"datum": "Trend Inflation", "title": null},
           "strokeDash": {"datum": "Trend Inflation", "title": null}
         }},
        {"data": {"values": [{}]}, "mark": {"type": "rule", "color": "#000000", "strokeWidth": 1.5},
         "encoding": {"y": {"datum": 0, "type": "quantitative", "axis": null}}}
      ],
      "resolve": {"axis": {"x": "independent", "y": "independent"}}
    },
    {
      "title": "Korea",
      "width": 433, "height": 307,
      "layer": [
        {"data": {"name": "ko_h"}, "mark": {"type": "line", "strokeWidth": 2.5},
         "encoding": {
           "x": {"field": "t", "type": "quantitative", "scale": {"domain": [1985.2, 2018.1], "nice": false, "zero": false},
                 "axis": {"orient": "bottom", "values": [1986,1987,1988,1989,1990,1991,1992,1993,1994,1995,1996,1997,1998,1999,2000,2001,2002,2003,2004,2005,2006,2007,2008,2009,2010,2011,2012,2013,2014,2015,2016,2017,2018], "labels": false, "grid": true, "gridColor": "#cfcfcf", "gridDash": [1,2]}},
           "y": {"field": "v", "type": "quantitative", "scale": {"domain": [-5, 25], "nice": false, "zero": false},
                 "axis": {"orient": "left", "values": [-4,-3,-2,-1,1,2,3,4,6,7,8,9,11,12,13,14,16,17,18,19,21,22,23,24], "labels": false, "grid": true, "gridColor": "#cfcfcf", "gridDash": [1,2]}},
           "color": {"datum": "Headline Inflation", "title": null},
           "strokeDash": {"datum": "Headline Inflation", "title": null}
         }},
        {"data": {"name": "ko_t"}, "mark": {"type": "line", "strokeWidth": 2},
         "encoding": {
           "x": {"field": "t", "type": "quantitative", "axis": {"orient": "bottom", "values": [1990,1995,2000,2005,2010,2015], "format": "d", "grid": true, "gridColor": "#dedede"}},
           "y": {"field": "v", "type": "quantitative", "axis": {"orient": "left", "values": [-5,0,5,10,15,20,25], "labelExpr": "datum.value + ''", "grid": true, "gridColor": "#dedede"}},
           "color": {"datum": "Trend Inflation", "title": null},
           "strokeDash": {"datum": "Trend Inflation", "title": null}
         }},
        {"data": {"values": [{}]}, "mark": {"type": "rule", "color": "#000000", "strokeWidth": 1.5},
         "encoding": {"y": {"datum": 0, "type": "quantitative", "axis": null}}}
      ],
      "resolve": {"axis": {"x": "independent", "y": "independent"}}
    }
  ],
  "columns": 2,
  "spacing": {"row": 117, "column": 136},
  "bounds": "flush"
}
